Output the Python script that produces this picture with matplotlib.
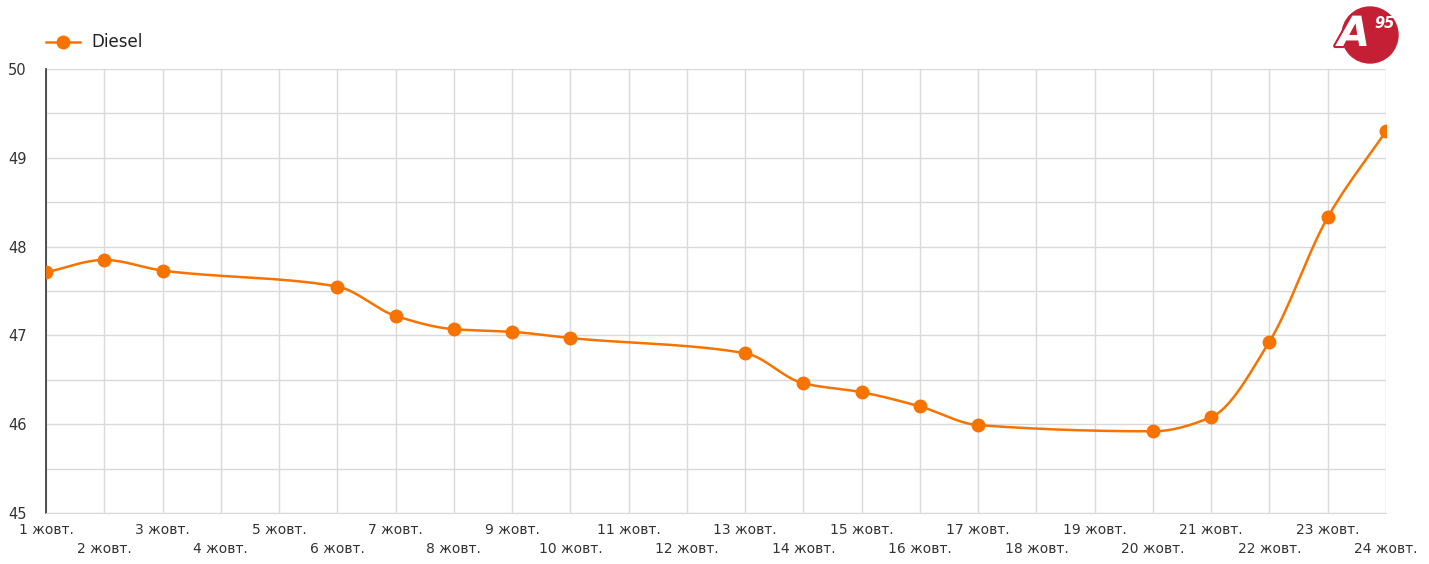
import numpy as np
import matplotlib.pyplot as plt
import matplotlib.patheffects as pe
from matplotlib.patches import Circle

plt.rcParams['font.family'] = ['DejaVu Sans']

days = list(range(1, 25))
tick_labels = [f"{d} жовт." for d in days]

# days with a price and the diesel price on those days
price_days = [1, 2, 3, 6, 7, 8, 9, 10, 13, 14, 15, 16, 17, 20, 21, 22, 23, 24]
diesel = [47.71, 47.85, 47.73, 47.55, 47.22, 47.07, 47.04, 46.97, 46.80,
          46.46, 46.36, 46.20, 45.99, 45.92, 46.08, 46.93, 48.33, 49.30]

orange = "#f77300"


def monotone_curve(x, y, n=30):
    # Fritsch-Carlson monotone cubic, only used to draw a smooth line
    x = np.asarray(x, float)
    y = np.asarray(y, float)
    h = np.diff(x)
    d = np.diff(y) / h
    m = np.zeros_like(y)
    m[0], m[-1] = d[0], d[-1]
    for i in range(1, len(y) - 1):
        if d[i - 1] * d[i] <= 0:
            m[i] = 0
        else:
            w1 = 2 * h[i] + h[i - 1]
            w2 = h[i] + 2 * h[i - 1]
            m[i] = (w1 + w2) / (w1 / d[i - 1] + w2 / d[i])
    xs, ys = [], []
    for i in range(len(h)):
        t = np.linspace(0, 1, n, endpoint=False)
        h00 = 2 * t**3 - 3 * t**2 + 1
        h10 = t**3 - 2 * t**2 + t
        h01 = -2 * t**3 + 3 * t**2
        h11 = t**3 - t**2
        xs.append(x[i] + t * h[i])
        ys.append(h00 * y[i] + h10 * h[i] * m[i] + h01 * y[i + 1] + h11 * h[i] * m[i + 1])
    xs.append([x[-1]])
    ys.append([y[-1]])
    return np.concatenate(xs), np.concatenate(ys)


fig = plt.figure(figsize=(14.29, 5.64), dpi=100)
ax = fig.add_axes([0.0322, 0.0904, 0.9377, 0.7873])

sx, sy = monotone_curve(price_days, diesel)
ax.plot(sx, sy, color=orange, lw=1.8, zorder=3)
ax.plot(price_days, diesel, "o", color=orange, ms=9, zorder=4)

ax.set_xlim(1, 24)
ax.set_ylim(45, 50)
# odd days on the upper row, even days on the lower row
ax.set_xticks(days[0::2])
ax.set_xticklabels(tick_labels[0::2], fontsize=10, color="#333333")
ax.set_xticks(days[1::2], minor=True)
ax.set_xticklabels(tick_labels[1::2], minor=True, fontsize=10, color="#333333")
ax.tick_params(axis="x", which="major", length=0, pad=7)
ax.tick_params(axis="x", which="minor", length=0, pad=21)

ax.set_yticks(np.arange(45, 50.01, 0.5))
ax.set_yticklabels([str(int(v)) if v == int(v) else "" for v in np.arange(45, 50.01, 0.5)],
                   fontsize=10.5, color="#333333")
ax.tick_params(axis="y", length=0, pad=14)
ax.grid(True, which="both", color="#d9d9d9", lw=1.0)
ax.set_axisbelow(True)
for s in ["top", "right"]:
    ax.spines[s].set_visible(False)
ax.spines["bottom"].set_color("#d9d9d9")
ax.spines["left"].set_color("#333333")
ax.spines["left"].set_linewidth(1.2)

# legend
fig.lines.append(plt.Line2D([46 / 1429, 80 / 1429], [1 - 42 / 564] * 2, color=orange, lw=1.8,
                            transform=fig.transFigure))
fig.lines.append(plt.Line2D([63 / 1429], [1 - 42 / 564], color=orange, marker="o", ms=9,
                            transform=fig.transFigure))
fig.text(91 / 1429, 1 - 42 / 564, "Diesel", fontsize=12, color="#222222", va="center")

# logo
red = "#c41f35"
logo = Circle((1370, 564 - 35), 28, color=red, transform=None)
fig.patches.append(logo)
fig.text(1354 / 1429, 1 - 34 / 564, "A", fontsize=30, fontweight="bold", style="italic",
         color="white", ha="center", va="center",
         path_effects=[pe.withStroke(linewidth=3, foreground=red)])
fig.text(1385 / 1429, 1 - 24 / 564, "95", fontsize=10.5, fontweight="bold", style="italic",
         color="white", ha="center", va="center")

plt.savefig("out.png", dpi=100)
